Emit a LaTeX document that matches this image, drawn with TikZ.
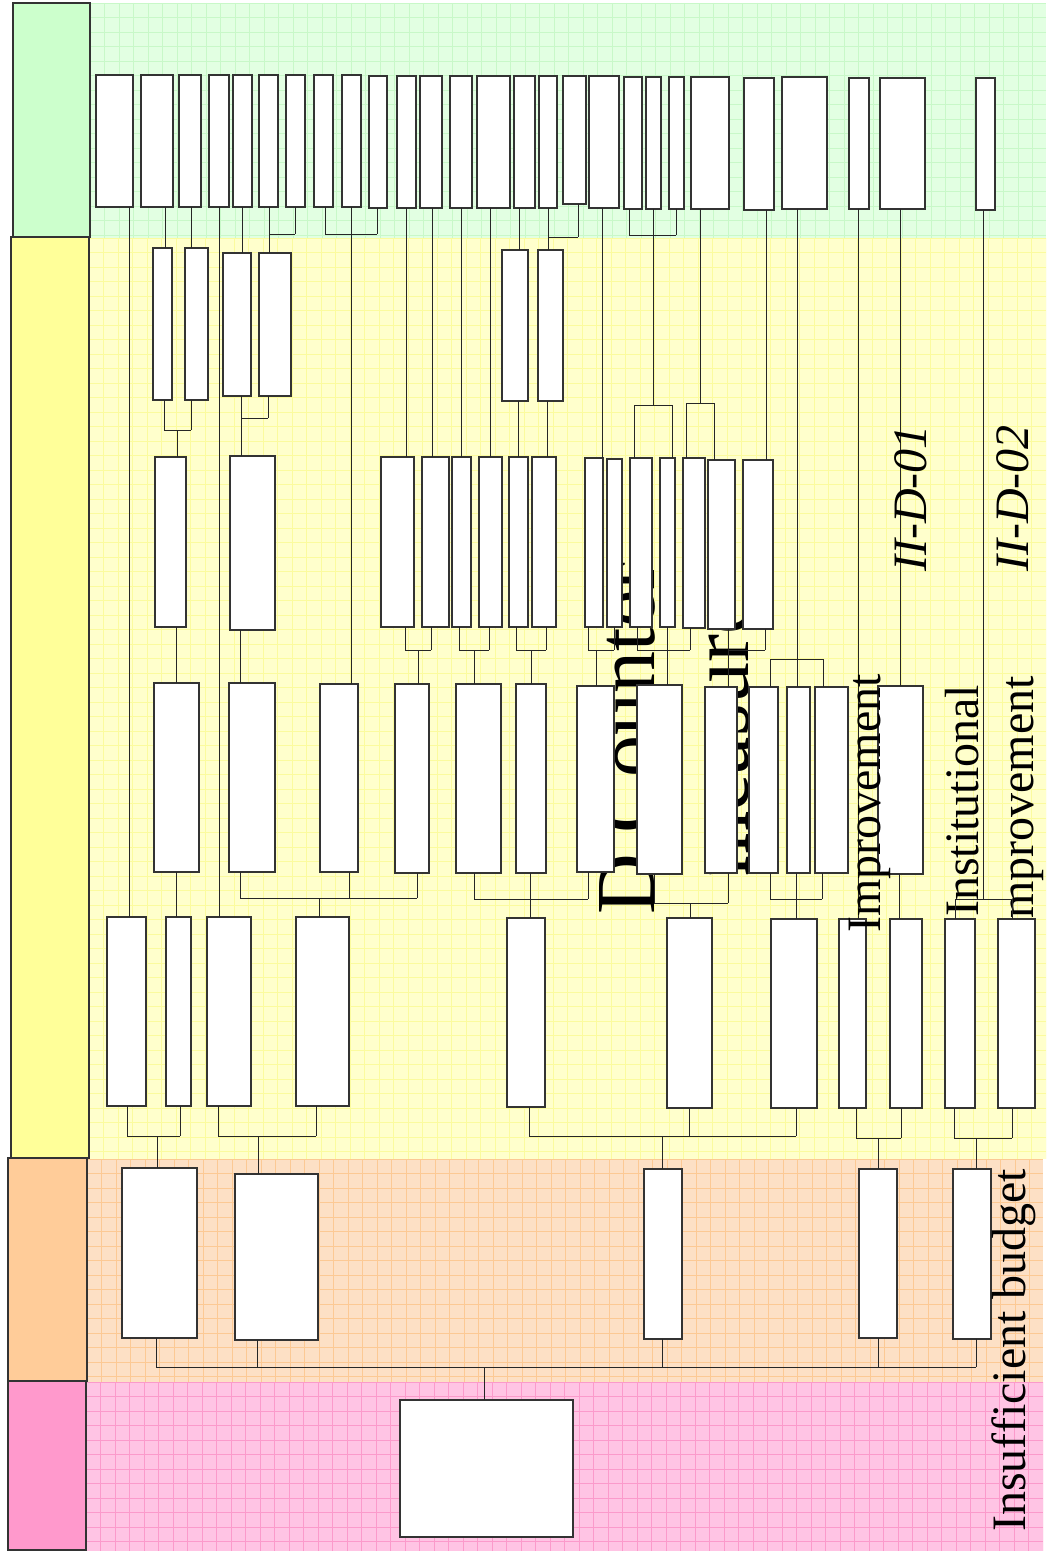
\documentclass[tikz,border=0pt]{standalone}
\usepackage{fontspec}
\setmainfont{Liberation Serif}
\definecolor{gTab}{HTML}{CCFFCC}
\definecolor{yTab}{HTML}{FFFF99}
\definecolor{oTab}{HTML}{FFCC99}
\definecolor{pTab}{HTML}{FF99CC}
\definecolor{gBand}{HTML}{E2FFE2}
\definecolor{gGrid}{HTML}{C8F8C8}
\definecolor{yBand}{HTML}{FFFFCC}
\definecolor{yGrid}{HTML}{FBFB9E}
\definecolor{oBand}{HTML}{FDE0C5}
\definecolor{oGrid}{HTML}{FCC994}
\definecolor{pBand}{HTML}{FFC4E4}
\definecolor{pGrid}{HTML}{FB9ACB}
\newcommand\mkbox[5]{\node[bx,minimum width={(#4-#2)*0.75pt},minimum height={(#5-#3)*0.75pt}] (#1) at ({(#2+#4)/2},{(#3+#5)/2}) {};}
\newcommand\vl[3]{\draw[ln] (#1,0 |- #2.south) -- (#1,0 |- #3.north);}
\newcommand\up[3]{\draw[ln] (#1,0 |- #2.south) -- (#1,#3);}
\newcommand\dn[3]{\draw[ln] (#1,#3) -- (#1,0 |- #2.north);}
\newcommand\hb[3]{\draw[ln] (#1,#3) -- (#2,#3);}
\newcommand\gridin[5]{\begin{scope}\clip (#1,#2) rectangle (#3,#4);
\foreach \i in {0,...,70}{\draw[#5,line width=0.55pt] ({#1+14.5*\i},#2) -- ({#1+14.5*\i},#4);}
\foreach \i in {0,...,70}{\draw[#5,line width=0.55pt] (#1,{#2+14.5*\i}) -- (#3,{#2+14.5*\i});}
\end{scope}}
\begin{document}
\begin{tikzpicture}[x=0.75pt,y=-0.75pt,
  bx/.style={draw=black!80,fill=white,line width=0.8pt,inner sep=0pt,outer sep=0pt},
  ln/.style={draw=black!85,line width=0.6pt},
  tabline/.style={draw=black!80,line width=1pt},
  big/.style={font=\fontsize{63}{70}\selectfont,inner sep=0pt,anchor=base west,rotate=90},
  lab/.style={font=\fontsize{36}{40}\selectfont,inner sep=0pt,anchor=base west,rotate=90}]
\useasboundingbox (0,0) rectangle (1049,1551);
% bands
\fill[gBand] (90,3) rectangle (1046,238);
\fill[yBand] (89,238) rectangle (1046,1159);
\fill[oBand] (87,1159) rectangle (1043,1382);
\fill[pBand] (86,1382) rectangle (1043,1551);
\gridin{90}{3}{1046}{238}{gGrid}
\gridin{89}{238}{1046}{1159}{yGrid}
\gridin{87}{1159}{1043}{1382}{oGrid}
\gridin{86}{1382}{1043}{1551}{pGrid}
% tabs
\draw[tabline,fill=gTab] (13,3) rectangle (90,237);
\draw[tabline,fill=yTab] (11,237) rectangle (89,1158);
\draw[tabline,fill=oTab] (8,1158) rectangle (87,1381);
\draw[tabline,fill=pTab] (8,1381) rectangle (86,1550);
% big title (behind boxes)
\node[big] (title1) at (654,915) {D Counter};
\node[big] (title2) at (748,877) {measure};
\node[lab] (inst) at (978,917) {Institutional};
\node[lab] (impr2) at (1033,935) {Improvement};
% top row
\mkbox{t1}{96}{75}{133}{207}
\mkbox{t2}{141}{75}{173}{207}
\mkbox{t3}{179}{75}{201}{207}
\mkbox{t4}{209}{75}{229}{207}
\mkbox{t5}{233}{75}{252}{207}
\mkbox{t6}{259}{75}{278}{207}
\mkbox{t7}{286}{75}{305}{207}
\mkbox{t8}{314}{75}{333}{207}
\mkbox{t9}{342}{75}{361}{207}
\mkbox{t10}{369}{76}{387}{208}
\mkbox{t11}{397}{76}{416}{208}
\mkbox{t12}{420}{76}{442}{208}
\mkbox{t13}{450}{76}{472}{208}
\mkbox{t14}{477}{76}{510}{208}
\mkbox{t15}{514}{76}{535}{208}
\mkbox{t16}{539}{76}{557}{208}
\mkbox{t17}{563}{76}{586}{204}
\mkbox{t18}{589}{76}{619}{208}
\mkbox{t19}{624}{77}{642}{209}
\mkbox{t20}{646}{77}{661}{209}
\mkbox{t21}{669}{77}{684}{209}
\mkbox{t22}{691}{77}{729}{209}
\mkbox{t23}{744}{78}{774}{210}
\mkbox{t24}{782}{77}{827}{209}
\mkbox{t25}{849}{78}{869}{209}
\mkbox{t26}{880}{78}{925}{209}
\mkbox{t27}{976}{78}{995}{210}
% yellow row 1
\mkbox{y1}{153}{248}{172}{400}
\mkbox{y2}{185}{248}{208}{400}
\mkbox{y3}{223}{253}{251}{396}
\mkbox{y4}{259}{253}{291}{396}
\mkbox{y5}{502}{250}{528}{401}
\mkbox{y6}{538}{250}{563}{401}
% level 2
\mkbox{s1}{155}{457}{186}{627}
\mkbox{s2}{230}{456}{275}{630}
\mkbox{sa}{381}{457}{414}{627}
\mkbox{sb}{422}{457}{449}{627}
\mkbox{sc}{452}{457}{471}{627}
\mkbox{sd}{479}{457}{502}{627}
\mkbox{se}{509}{457}{528}{627}
\mkbox{sf}{532}{457}{556}{627}
\mkbox{sg}{585}{458}{603}{627}
\mkbox{sh}{607}{459}{622}{627}
\mkbox{si}{630}{458}{652}{627}
\mkbox{sj}{660}{458}{675}{627}
\mkbox{sk}{683}{458}{705}{628}
\mkbox{sl}{708}{460}{735}{629}
\mkbox{sm}{743}{460}{773}{629}
% level 3
\mkbox{ra}{154}{683}{199}{872}
\mkbox{rb}{229}{683}{275}{872}
\mkbox{rc}{320}{684}{358}{872}
\mkbox{rd}{395}{684}{429}{873}
\mkbox{re}{456}{684}{501}{873}
\mkbox{rf}{516}{684}{546}{873}
\mkbox{rg}{577}{686}{614}{872}
\mkbox{rh}{637}{685}{682}{874}
\mkbox{ri}{705}{687}{737}{873}
\mkbox{rn}{749}{687}{778}{873}
\mkbox{ro}{787}{687}{810}{873}
\mkbox{rp}{815}{687}{848}{873}
\mkbox{rq}{878}{686}{923}{874}
% level 4
\mkbox{qa}{107}{917}{146}{1106}
\mkbox{qb}{166}{917}{191}{1106}
\mkbox{qc}{207}{917}{251}{1106}
\mkbox{qd}{296}{917}{349}{1106}
\mkbox{qe}{507}{918}{545}{1107}
\mkbox{qf}{667}{918}{712}{1108}
\mkbox{qg}{771}{919}{817}{1108}
\mkbox{qh}{839}{919}{866}{1108}
\mkbox{qi}{890}{919}{922}{1108}
\mkbox{qj}{945}{919}{975}{1108}
\mkbox{qk}{998}{919}{1035}{1108}
% orange
\mkbox{oa}{122}{1168}{197}{1338}
\mkbox{ob}{235}{1174}{318}{1340}
\mkbox{oc}{644}{1169}{682}{1339}
\mkbox{od}{859}{1169}{897}{1338}
\mkbox{oe}{953}{1169}{991}{1339}
% root
\mkbox{root}{400}{1400}{573}{1537}
% connectors: top row
\vl{129}{t1}{qa}
\vl{165}{t2}{y1}
\vl{191}{t3}{y2}
\vl{219}{t4}{qc}
\vl{242}{t5}{y3}
\vl{269}{t6}{y4}\up{295}{t7}{234}\hb{269}{295}{234}
\up{325}{t8}{234}\up{377}{t10}{234}\hb{325}{377}{234}\vl{351}{t9}{rc}
\vl{406}{t11}{sa}
\vl{432}{t12}{sb}
\vl{461}{t13}{sc}
\vl{490}{t14}{sd}
\vl{519}{t15}{y5}
\vl{548}{t16}{y6}\up{578}{t17}{237}\hb{548}{578}{237}
\vl{602}{t18}{sg}
\up{629}{t19}{235}\up{653}{t20}{405}\up{676}{t21}{235}\hb{629}{676}{235}
\hb{634}{672}{405}\dn{634}{si}{405}\dn{672}{sj}{405}
\up{700}{t22}{403}\hb{686}{714}{403}\dn{686}{sk}{403}\dn{714}{sl}{403}
\vl{766}{t23}{sm}
\up{797}{t24}{659}\hb{770}{823}{659}\dn{770}{rn}{659}\dn{797}{ro}{659}\dn{823}{rp}{659}
\vl{858}{t25}{qh}
\vl{900}{t26}{rq}
\up{983}{t27}{899}\hb{955}{1012}{899}\dn{955}{qj}{899}\dn{1012}{qk}{899}
% yellow row
\up{164}{y1}{430}\up{191}{y2}{430}\hb{164}{191}{430}\dn{177}{s1}{430}
\up{268}{y4}{418}\hb{241}{268}{418}\vl{241}{y3}{s2}
\vl{518}{y5}{se}
\vl{547}{y6}{sf}
% level 2
\vl{176}{s1}{ra}
\vl{240}{s2}{rb}
\up{405}{sa}{650}\up{431}{sb}{650}\hb{405}{431}{650}\dn{418}{rd}{650}
\up{459}{sc}{650}\up{489}{sd}{650}\hb{459}{489}{650}\dn{474}{re}{650}
\up{516}{se}{650}\up{546}{sf}{650}\hb{516}{546}{650}\dn{531}{rf}{650}
\up{588}{sg}{650}\up{614}{sh}{650}\hb{588}{614}{650}\dn{596}{rg}{650}
\up{637}{si}{650}\vl{667}{sj}{rh}\up{690}{sk}{650}\hb{637}{690}{650}
\vl{728}{sl}{ri}\up{765}{sm}{650}\hb{728}{765}{650}
% level 3
\vl{176}{ra}{qb}
\up{240}{rb}{898}\up{349}{rc}{898}\up{417}{rd}{898}\hb{240}{417}{898}\dn{319}{qd}{898}
\up{474}{re}{899}\vl{530}{rf}{qe}\up{588}{rg}{899}\hb{474}{588}{899}
\up{654}{rh}{903}\up{728}{ri}{903}\hb{654}{728}{903}\dn{690}{qf}{903}
\up{770}{rn}{899}\vl{796}{ro}{qg}\up{822}{rp}{899}\hb{770}{822}{899}
\vl{899}{rq}{qi}
% level 4
\up{127}{qa}{1136}\up{180}{qb}{1136}\hb{127}{180}{1136}\dn{157}{oa}{1136}
\up{218}{qc}{1136}\up{316}{qd}{1136}\hb{218}{316}{1136}\dn{258}{ob}{1136}
\up{529}{qe}{1136}\up{689}{qf}{1136}\up{796}{qg}{1136}\hb{529}{796}{1136}\dn{662}{oc}{1136}
\up{856}{qh}{1138}\up{901}{qi}{1138}\hb{856}{901}{1138}\dn{878}{od}{1138}
\up{954}{qj}{1138}\up{1012}{qk}{1138}\hb{954}{1012}{1138}\dn{976}{oe}{1138}
% orange to root
\up{156}{oa}{1367}\up{257}{ob}{1367}\up{662}{oc}{1367}\up{878}{od}{1367}\up{976}{oe}{1367}
\hb{156}{976}{1367}\dn{484}{root}{1367}
% labels on top
\node[lab] (impr1) at (880,933) {Improvement};
\node[lab] (code1) at (926,572) {\itshape II-D-01};
\node[lab] (code2) at (1028,572) {\itshape II-D-02};
\node[lab] (budget) at (1025,1532) {Insufficient budget};
\end{tikzpicture}
\end{document}
